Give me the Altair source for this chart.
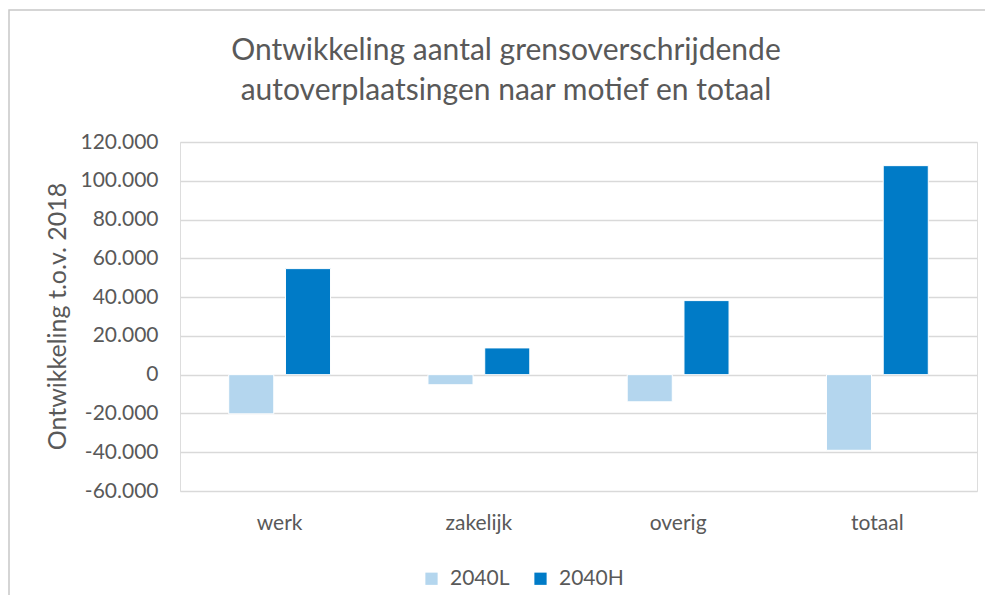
import altair as alt
import pandas as pd

categories = ["werk", "zakelijk", "overig", "totaal"]
series_names = ["2040L", "2040H"]
low_values = [-20200, -5200, -14000, -39000]
high_values = [54700, 13800, 38200, 107800]
tick_values = [-60000, -40000, -20000, 0, 20000, 40000, 60000, 80000, 100000, 120000]
colors = ["#b4d6ee", "#007bc7"]
title_lines = ["Ontwikkeling aantal grensoverschrijdende",
               "autoverplaatsingen naar motief en totaal"]

rows = []
for c, lo, hi in zip(categories, low_values, high_values):
    rows.append({"motief": c, "scenario": series_names[0], "waarde": lo})
    rows.append({"motief": c, "scenario": series_names[1], "waarde": hi})
df = pd.DataFrame(rows)

FONT = "Lato"
TXT = "#595959"

label_expr = "replace(replace(format(datum.value, ','), /,/g, '.'), '\u2212', '-')"

bars = alt.Chart(df).mark_bar(stroke="white", strokeWidth=1).encode(
    x=alt.X("motief:N", sort=categories,
            scale=alt.Scale(paddingInner=0, paddingOuter=0),
            axis=alt.Axis(title=None, labelAngle=0, domain=False, ticks=False,
                          labelPadding=21, labelFontSize=21, labelColor=TXT,
                          labelFont=FONT)),
    xOffset=alt.XOffset("scenario:N", sort=series_names,
                        scale=alt.Scale(paddingInner=0.206, paddingOuter=0.858)),
    y=alt.Y("waarde:Q",
            scale=alt.Scale(domain=[-60000, 120000], nice=False, zero=False),
            axis=alt.Axis(title="Ontwikkeling t.o.v. 2018", values=tick_values,
                          labelExpr=label_expr, domain=False, ticks=False,
                          labelPadding=22, labelFontSize=21, labelColor=TXT,
                          labelFont=FONT, grid=True, gridColor="#d9d9d9",
                          gridWidth=1.5, titleFont=FONT, titleFontSize=25,
                          titleFontWeight="normal", titleColor=TXT,
                          titleX=-123, titleY=174, titleBaseline="middle",
                          titleAngle=-90)),
    color=alt.Color("scenario:N", sort=series_names,
                    scale=alt.Scale(domain=series_names, range=colors),
                    legend=alt.Legend(title=None, orient="none", direction="horizontal",
                                      legendX=241, legendY=426, symbolType="square",
                                      symbolSize=150, symbolStrokeWidth=0,
                                      labelFontSize=21, labelColor=TXT, labelFont=FONT,
                                      columnPadding=20, labelOffset=8)),
)

frame = alt.Chart(pd.DataFrame({"a": [0]})).mark_rect(
    fill=None, stroke="#c8c8c8", strokeWidth=1.5
).encode(
    x=alt.value(-171), x2=alt.value(830), y=alt.value(-132), y2=alt.value(480)
)

title = alt.Chart(pd.DataFrame({"t": [title_lines]})).mark_text(
    font=FONT, fontSize=30, color=TXT, align="center", baseline="middle",
    lineHeight=40
).encode(
    text="t", x=alt.value(326), y=alt.value(-91)
)

chart = alt.layer(frame, title, bars).properties(
    width=797,
    height=349,
    autosize=alt.AutoSizeParams(type="none"),
    padding={"left": 172, "top": 134, "right": 8, "bottom": 104},
).configure_view(stroke=None).configure(background="white")

chart.save("out.html", embed_options={"renderer": "svg", "actions": False})
